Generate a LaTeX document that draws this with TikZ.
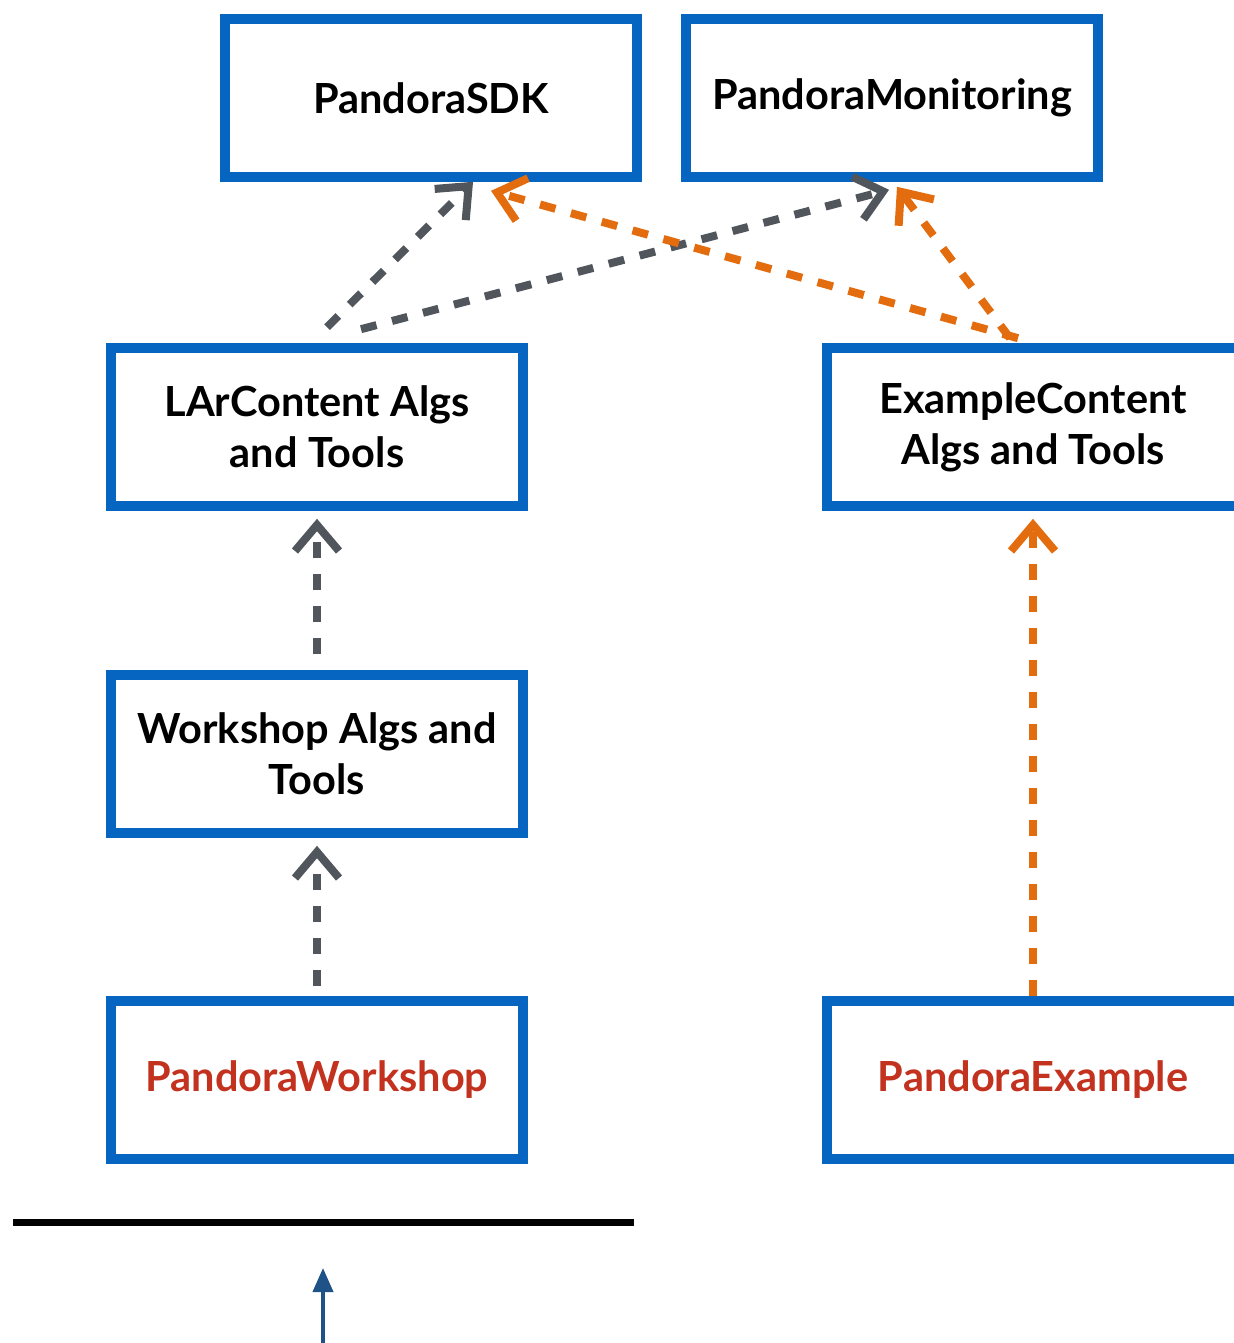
\documentclass[tikz,border=0pt]{standalone}
\usepackage{fontspec}
\setmainfont{Lato}
\usepackage{xcolor}
\usetikzlibrary{positioning,arrows.meta}
\definecolor{boxblue}{HTML}{0565C0}
\definecolor{pkgred}{HTML}{C3321F}
\definecolor{depgray}{HTML}{51565D}
\definecolor{deporange}{HTML}{E36C0E}
\definecolor{arrowblue}{HTML}{1F5286}

\begin{document}
\begin{tikzpicture}[x=0.01cm, y=-0.01cm, >=Stealth]
  \tikzset{
    box/.style={draw=boxblue,line width=0.095cm,minimum width=4.12cm,
                minimum height=1.58cm,inner sep=0pt,align=center,
                font=\fontsize{11.8}{14.5}\selectfont\bfseries},
    pkg/.style={box,text=pkgred},
    gdep/.style={draw=depgray,line width=0.08cm,
                 dash pattern=on 0.16cm off 0.16cm,
                 -{Straight Barb[length=0.26cm,width=0.44cm]}},
    odep/.style={gdep,draw=deporange}
  }
  \useasboundingbox (0,0) rectangle (1233,1343);
  % Top libraries
  \node[box] (sdk) at (431,98) {PandoraSDK};
  \node[box] (mon) at (892,98) {PandoraMonitoring};
  % Content libraries
  \node[box] (lar) at (317,427) {LArContent Algs\\and Tools};
  \node[box] (exc) at (1033,427) {ExampleContent\\Algs and Tools};
  \node[box] (wsh) at (317,754) {Workshop Algs and\\Tools};
  % Packages
  \node[pkg] (pws) at (317,1080) {PandoraWorkshop};
  \node[pkg] (pex) at (1033,1080) {PandoraExample};
  % Dependencies
  \draw[gdep] ([xshift=0.1cm,yshift=0.16cm]lar.north) -- ([xshift=0.42cm]sdk.south);
  \draw[gdep] ([xshift=0.44cm,yshift=0.14cm]lar.north) -- ([xshift=-0.03cm,yshift=-0.08cm]mon.south);
  \draw[odep] ([xshift=-0.15cm,yshift=0.05cm]exc.north) -- ([xshift=0.6cm,yshift=-0.09cm]sdk.south);
  \draw[odep] ([xshift=-0.23cm,yshift=0.05cm]exc.north) -- ([xshift=0.05cm,yshift=-0.05cm]mon.south);
  \draw[gdep] ([yshift=0.16cm]wsh.north) -- ([yshift=-0.08cm]lar.south);
  \draw[gdep] ([yshift=0.1cm]pws.north) -- ([yshift=-0.08cm]wsh.south);
  \draw[odep] (pex.north) -- ([yshift=-0.08cm]exc.south);
  % Rule and pointer
  \coordinate (rl) at (13,1222);
  \coordinate (rr) at (634,1222);
  \draw[line width=0.07cm] (rl) -- (rr);
  \coordinate (ab) at (323,1343);
  \coordinate (at) at (323,1268);
  \draw[draw=arrowblue,line width=0.04cm,
        -{Triangle[length=0.24cm,width=0.2cm,fill=arrowblue]}] (ab) -- (at);
\end{tikzpicture}
\end{document}
